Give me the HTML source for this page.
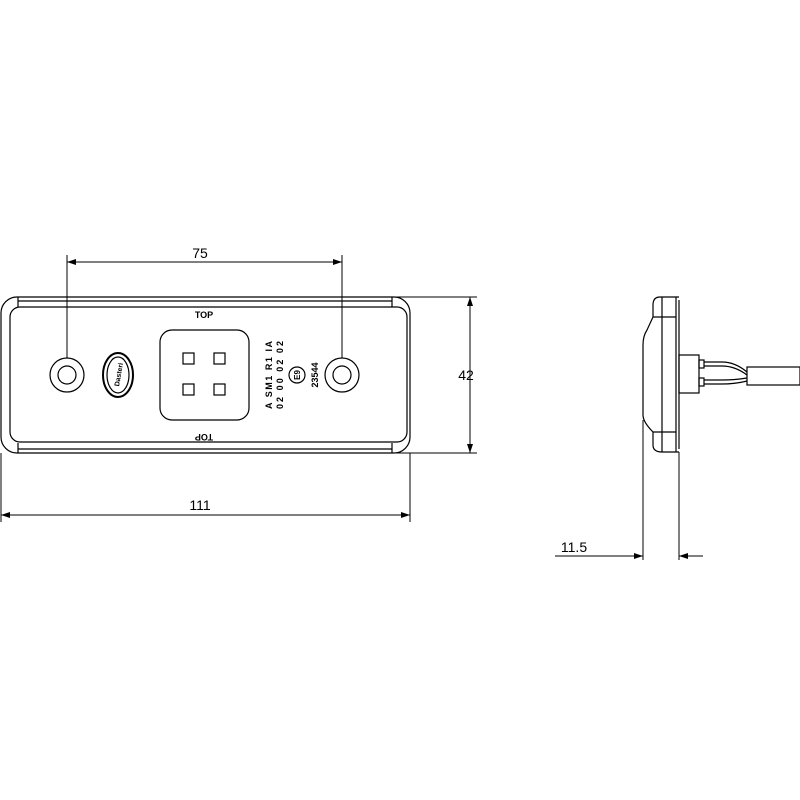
<!DOCTYPE html><html><head><style>body{margin:0;background:#fff}svg{display:block}</style></head><body>
<svg width="800" height="800" viewBox="0 0 800 800" xmlns="http://www.w3.org/2000/svg" font-family="Liberation Sans, sans-serif">
<g fill="none" stroke="#000" stroke-width="1.2">
<rect x="1" y="297" width="409" height="156" rx="16"/>
<rect x="10" y="307" width="397" height="135" rx="10"/>
<line x1="18" y1="301" x2="392" y2="301"/><line x1="18" y1="449" x2="392" y2="449"/>
<line x1="18" y1="297" x2="18" y2="307"/><line x1="392" y1="297" x2="392" y2="307"/>
<line x1="18" y1="443" x2="18" y2="453"/><line x1="392" y1="443" x2="392" y2="453"/>
<circle cx="67" cy="375" r="17"/><circle cx="67" cy="375" r="9"/>
<circle cx="342" cy="375" r="17"/><circle cx="342" cy="375" r="9"/>
<rect x="160" y="330" width="89" height="90" rx="12"/>
<rect x="183" y="353" width="11" height="11"/><rect x="214" y="353" width="11" height="11"/>
<rect x="183" y="384" width="11" height="11"/><rect x="214" y="384" width="11" height="11"/>
<ellipse cx="118" cy="375" rx="15" ry="22" stroke-width="2"/><ellipse cx="118" cy="375" rx="11" ry="18"/>
<circle cx="297" cy="375" r="8"/>
<line x1="67" y1="358" x2="67" y2="255" stroke-width="1"/><line x1="342" y1="358" x2="342" y2="255" stroke-width="1"/>
<line x1="67" y1="262" x2="342" y2="262" stroke-width="1"/>
<line x1="1" y1="453" x2="1" y2="522" stroke-width="1"/><line x1="410" y1="453" x2="410" y2="522" stroke-width="1"/>
<line x1="1" y1="515" x2="410" y2="515" stroke-width="1"/>
<line x1="395" y1="297" x2="477" y2="297" stroke-width="1"/><line x1="395" y1="453" x2="477" y2="453" stroke-width="1"/>
<line x1="470" y1="297" x2="470" y2="453" stroke-width="1"/>
<!-- side view -->
<path d="M679,297 H660 Q653,297 653,305 V317 L647,330 Q643,336 643,345 V415 Q643,422 653,432 V445 Q653,452 662,452 H679"/>
<line x1="653" y1="317" x2="676" y2="317"/><line x1="653" y1="432" x2="676" y2="432"/>
<line x1="662" y1="297" x2="662" y2="452"/><line x1="676" y1="297" x2="676" y2="452"/>
<line x1="679" y1="300" x2="679" y2="449"/>
<rect x="679" y="355" width="20" height="38"/>
<rect x="699" y="360" width="5" height="8"/><rect x="699" y="378" width="5" height="8"/>
<path d="M704,362 H722 Q735,362 747,372"/><path d="M704,366 H722 Q735,366 747,375"/>
<path d="M704,380 H722 Q735,380 747,378"/><path d="M704,384 H722 Q735,384 747,381"/>
<rect x="747" y="367" width="53" height="18"/>
<line x1="643" y1="420" x2="643" y2="560" stroke-width="1"/><line x1="679" y1="452" x2="679" y2="560" stroke-width="1"/>
<line x1="555" y1="556" x2="643" y2="556" stroke-width="1"/>
<line x1="679" y1="556" x2="703" y2="556" stroke-width="1"/>
</g>
<g fill="#000">
<path d="M67,262l9,-3v6z"/><path d="M342,262l-9,-3v6z"/>
<path d="M1,515l9,-3v6z"/><path d="M410,515l-9,-3v6z"/>
<path d="M470,297l-3,9h6z"/><path d="M470,453l-3,-9h6z"/>
<path d="M643,556l-9,-3v6z"/><path d="M679,556l9,-3v6z"/>
</g>
<g font-size="14" text-anchor="middle">
<text x="200" y="258">75</text><text x="200" y="510">111</text>
<text x="466" y="380">42</text>
<text x="574" y="552">11.5</text>
</g>
<g font-size="9" font-weight="bold" text-anchor="middle">
<text x="204" y="318">TOP</text>
<text x="204" y="434" transform="rotate(180 204 434)">TOP</text>
<text transform="translate(121,375) rotate(-80)" font-size="7">Dasteri</text>
<text transform="translate(272,375) rotate(-90)" textLength="68" lengthAdjust="spacing">A  SM1  R1  IA</text>
<text transform="translate(283,375) rotate(-90)" textLength="68" lengthAdjust="spacing">02  00  02  02</text>
<text transform="translate(300,375) rotate(-90)" font-size="8">E9</text>
<text transform="translate(318,375) rotate(-90)">23544</text>
</g>
</svg></body></html>
